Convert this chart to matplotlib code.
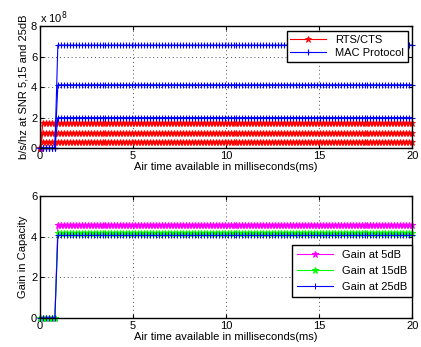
import numpy as np
import matplotlib
matplotlib.use('Agg')
import matplotlib.pyplot as plt

plt.rcParams['font.family'] = ['Liberation Sans', 'DejaVu Sans']
plt.rcParams['font.size'] = 8

# air time grid (ms) and the step points
t = np.arange(0, 20.01, 0.16)
rts_start = 0.1
mac_start = 0.95

# capacity levels (b/s/hz) at SNR 5, 15, 25 dB
rts_levels = [0.43e8, 1.0e8, 1.67e8]
mac_levels = [2.0e8, 4.15e8, 6.75e8]

# gain levels
gain_labels = ['Gain at 5dB', 'Gain at 15dB', 'Gain at 25dB']
gain_levels = [4.57, 4.17, 4.06]
gain_colors = ['#ff00ff', '#00ff00', '#0000ff']
gain_markers = ['*', '*', '+']

fig = plt.figure(figsize=(4.21, 3.47), dpi=100)
ax1 = fig.add_axes([0.095, 0.573, 0.884, 0.352])
ax2 = fig.add_axes([0.095, 0.084, 0.884, 0.351])

for i, lv in enumerate(rts_levels):
    y = np.where(t >= rts_start, lv, 0)
    ax1.plot(t, y, color='r', marker='*', markersize=5, linewidth=0.8,
             markeredgewidth=0.6, label='RTS/CTS' if i == 0 else None,
             clip_on=False)
for i, lv in enumerate(mac_levels):
    y = np.where(t >= mac_start, lv, 0)
    ax1.plot(t, y, color='b', marker='+', markersize=4.5, linewidth=0.8,
             markeredgewidth=0.8, label='MAC Protocol' if i == 0 else None,
             clip_on=False)

ax1.set_xlim(0, 20)
ax1.set_ylim(0, 8e8)
ax1.set_xticks([0, 5, 10, 15, 20])
ax1.set_yticks([0, 2e8, 4e8, 6e8, 8e8])
ax1.set_yticklabels(['0', '2', '4', '6', '8'])
ax1.text(0.0, 1.03, r'x 10$^8$', transform=ax1.transAxes, fontsize=8)
ax1.set_xlabel('Air time available in milliseconds(ms)', labelpad=1)
ax1.set_ylabel('b/s/hz at SNR 5,15 and 25dB', labelpad=2)
ax1.legend(loc='upper right', bbox_to_anchor=(0.988, 0.96), borderaxespad=0,
           fancybox=False, edgecolor='k', framealpha=1, borderpad=0.35,
           labelspacing=0.3, handlelength=3.2, fontsize=8)

for lab, lv, c, m in zip(gain_labels, gain_levels, gain_colors, gain_markers):
    y = np.where(t >= mac_start, lv, 0)
    ax2.plot(t, y, color=c, marker=m, markersize=5, linewidth=0.8,
             markeredgewidth=0.7, label=lab, clip_on=False)

ax2.set_xlim(0, 20)
ax2.set_ylim(0, 6)
ax2.set_xticks([0, 5, 10, 15, 20])
ax2.set_yticks([0, 2, 4, 6])
ax2.set_xlabel('Air time available in milliseconds(ms)', labelpad=1)
ax2.set_ylabel('Gain in Capacity', labelpad=2)
ax2.legend(loc='lower right', bbox_to_anchor=(1.0, 0.17), borderaxespad=0,
           fancybox=False, edgecolor='k', framealpha=1, borderpad=0.45,
           labelspacing=0.55, handlelength=3.2, fontsize=8)

for ax in (ax1, ax2):
    ax.grid(True, linestyle=(0, (1, 3)), color='#555555', linewidth=0.7)
    ax.tick_params(direction='in', top=True, right=True, length=3, pad=2)
    for s in ax.spines.values():
        s.set_linewidth(1.0)

fig.savefig('out.png', dpi=100)
